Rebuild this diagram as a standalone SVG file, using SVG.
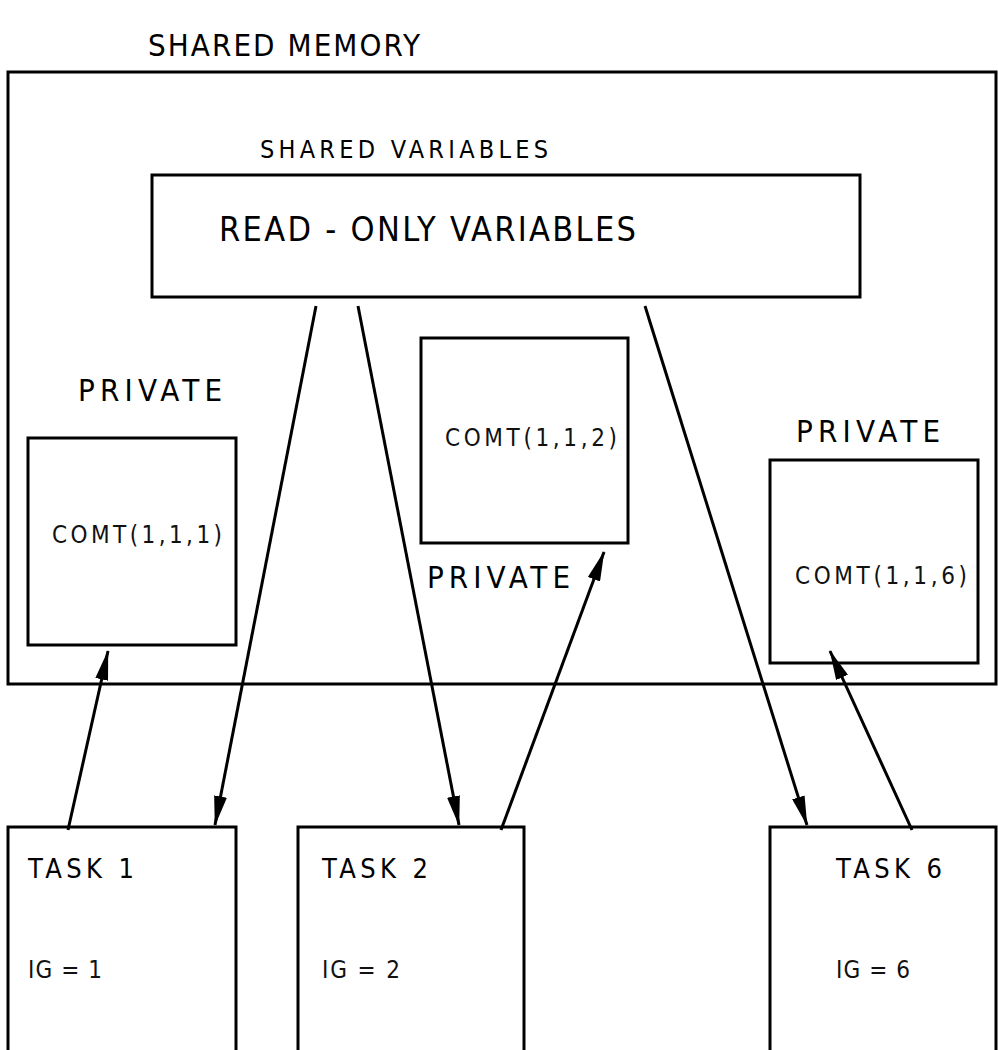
<svg xmlns="http://www.w3.org/2000/svg" width="998" height="1050" viewBox="0 0 998 1050">
<defs>
<style>
.box{fill:none;stroke:#000;stroke-width:3}
.ln{fill:none;stroke:#000;stroke-width:3}
text{font-family:"DejaVu Sans","Liberation Sans",Arial,sans-serif;font-stretch:condensed;fill:#000}
.big{font-size:31px}
.mid{font-size:25px}
.sm{font-size:24px;fill:#111}
</style>
<marker id="ah" viewBox="0 0 30 13" refX="29" refY="6.5" markerWidth="30" markerHeight="13" markerUnits="userSpaceOnUse" orient="auto">
<path d="M0,0 L30,6.5 L0,13 Z" fill="#000"/>
</marker>
</defs>
<rect width="998" height="1050" fill="#fff"/>
<text class="big" x="148" y="56" textLength="272" lengthAdjust="spacing">SHARED MEMORY</text>
<g id="shared-memory"><rect class="box" x="8" y="72" width="988" height="612"/></g>
<g id="shared-variables">
<text class="mid" x="260" y="158" textLength="288" lengthAdjust="spacing">SHARED VARIABLES</text>
<rect class="box" x="152" y="175" width="708" height="122"/>
<text class="big" x="219" y="241" textLength="417" lengthAdjust="spacing" style="font-size:34px">READ - ONLY VARIABLES</text>
</g>
<g id="private1">
<text class="big" x="78" y="401" textLength="144" lengthAdjust="spacing">PRIVATE</text>
<rect class="box" x="28" y="438" width="208" height="207"/>
<text class="sm" x="52" y="543" textLength="170" lengthAdjust="spacing">COMT(1,1,1)</text>
</g>
<g id="private2">
<rect class="box" x="421" y="338" width="207" height="205"/>
<text class="sm" x="445" y="446" textLength="172" lengthAdjust="spacing">COMT(1,1,2)</text>
<text class="big" x="427" y="588" textLength="143" lengthAdjust="spacing">PRIVATE</text>
</g>
<g id="private6">
<text class="big" x="796" y="442" textLength="144" lengthAdjust="spacing">PRIVATE</text>
<rect class="box" x="770" y="460" width="208" height="203"/>
<text class="sm" x="795" y="584" textLength="172" lengthAdjust="spacing">COMT(1,1,6)</text>
</g>
<g id="task1">
<rect class="box" x="8" y="827" width="228" height="240"/>
<text class="mid" x="28" y="878" textLength="106" lengthAdjust="spacing" style="font-size:27px">TASK 1</text>
<text class="sm" x="28" y="978" textLength="74" lengthAdjust="spacing">IG = 1</text>
</g>
<g id="task2">
<rect class="box" x="298" y="827" width="226" height="240"/>
<text class="mid" x="322" y="878" textLength="106" lengthAdjust="spacing" style="font-size:27px">TASK 2</text>
<text class="sm" x="322" y="978" textLength="78" lengthAdjust="spacing">IG = 2</text>
</g>
<g id="task6">
<rect class="box" x="770" y="827" width="226" height="240"/>
<text class="mid" x="836" y="878" textLength="106" lengthAdjust="spacing" style="font-size:27px">TASK 6</text>
<text class="sm" x="836" y="978" textLength="74" lengthAdjust="spacing">IG = 6</text>
</g>
<g id="connectors">
<line class="ln" x1="68" y1="830" x2="108" y2="651" marker-end="url(#ah)"/>
<line class="ln" x1="316" y1="306" x2="215" y2="825" marker-end="url(#ah)"/>
<line class="ln" x1="358" y1="306" x2="459" y2="825" marker-end="url(#ah)"/>
<line class="ln" x1="501" y1="830" x2="604" y2="552" marker-end="url(#ah)"/>
<line class="ln" x1="645" y1="306" x2="807" y2="825" marker-end="url(#ah)"/>
<line class="ln" x1="912" y1="830" x2="830" y2="651" marker-end="url(#ah)"/>
</g>
</svg>
